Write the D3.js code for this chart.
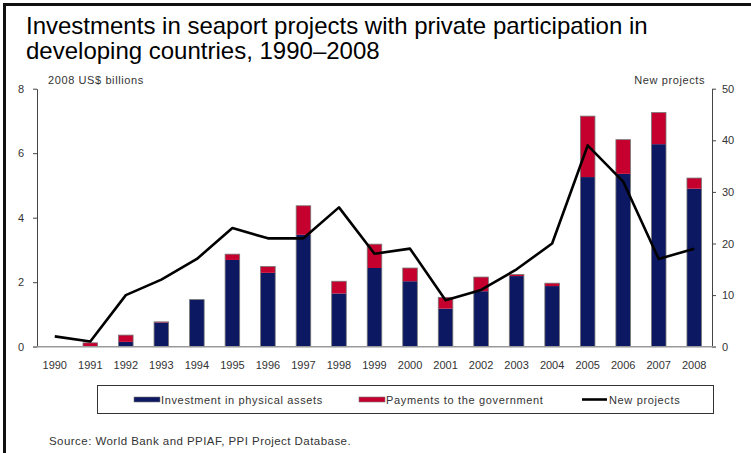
<!DOCTYPE html>
<html>
<head>
<meta charset="utf-8">
<script src="https://cdn.jsdelivr.net/npm/d3@7/dist/d3.min.js"></script>
<style>
  html, body { margin: 0; padding: 0; background: #fff; }
  svg { display: block; font-family: "Liberation Sans", Arial, sans-serif; }
</style>
</head>
<body>
<svg id="chart" width="751" height="453"></svg>
<script>
// Seaport investments with private participation, 1990–2008
const years = ["1990","1991","1992","1993","1994","1995","1996","1997","1998","1999",
               "2000","2001","2002","2003","2004","2005","2006","2007","2008"];
// 2008 US$ billions
const physicalAssets = [0, 0.02, 0.15, 0.75, 1.46, 2.69, 2.29, 3.47, 1.65, 2.44,
                        2.03, 1.18, 1.72, 2.19, 1.88, 5.26, 5.36, 6.28, 4.90];
const govPayments    = [0, 0.10, 0.21, 0.02, 0, 0.18, 0.20, 0.90, 0.38, 0.74,
                        0.41, 0.35, 0.44, 0.05, 0.09, 1.89, 1.06, 0.98, 0.33];
// count of new projects (right axis)
const newProjects    = [2, 1, 10, 13, 17, 23, 21, 21, 27, 18,
                        19, 9, 11, 15, 20, 39, 32, 17, 19];
const leftTicks  = [0, 2, 4, 6, 8];
const rightTicks = [0, 10, 20, 30, 40, 50];

const navy = "#0c1862", red = "#c5002e";
const svg = d3.select("#chart");

// outer frame (top and left rules)
svg.append("line").attr("x1", 4).attr("x2", 751).attr("y1", 4.5).attr("y2", 4.5)
  .attr("stroke", "#111").attr("stroke-width", 3);
svg.append("line").attr("x1", 4.5).attr("x2", 4.5).attr("y1", 3).attr("y2", 453)
  .attr("stroke", "#111").attr("stroke-width", 3);

// title
const title = svg.append("text").attr("x", 26).attr("y", 34)
  .attr("font-size", 24).attr("fill", "#000");
title.append("tspan").attr("x", 26).text("Investments in seaport projects with private participation in");
title.append("tspan").attr("x", 26).attr("dy", 25).text("developing countries, 1990–2008");

const plot = { left: 37, right: 712, top: 88.7, bottom: 346.7 };

const x = d3.scaleBand().domain(years).range([plot.left, plot.right]).paddingInner(0.59).paddingOuter(0.295);
const yL = d3.scaleLinear().domain([0, 8]).range([plot.bottom, plot.top]);
const yR = d3.scaleLinear().domain([0, 50]).range([plot.bottom, plot.top]);

// axis unit captions
svg.append("text").attr("x", 48).attr("y", 84).attr("font-size", 11).attr("fill", "#333")
  .attr("letter-spacing", 0.6).text("2008 US$ billions");
svg.append("text").attr("x", 705).attr("y", 84).attr("font-size", 11).attr("fill", "#333")
  .attr("letter-spacing", 0.6).attr("text-anchor", "end").text("New projects");

// left axis
const axL = svg.append("g").attr("transform", `translate(${plot.left},0)`)
  .call(d3.axisLeft(yL).tickValues(leftTicks).tickSize(4).tickSizeOuter(0).tickPadding(9));
// right axis
const axR = svg.append("g").attr("transform", `translate(${plot.right},0)`)
  .call(d3.axisRight(yR).tickValues(rightTicks).tickSize(4).tickSizeOuter(0).tickPadding(6));
[axL, axR].forEach(g => {
  g.select(".domain").attr("stroke", "#444");
  g.selectAll(".tick line").attr("stroke", "#444");
  g.selectAll(".tick text").attr("font-size", 11).attr("fill", "#333")
    .attr("font-family", "'Liberation Sans', Arial, sans-serif");
});

// stacked bars
const stackData = years.map((yr, i) => ({ year: yr, a: physicalAssets[i], b: govPayments[i] }));
const bars = svg.append("g");
bars.selectAll("rect.asset").data(stackData).join("rect")
  .attr("x", d => x(d.year)).attr("width", x.bandwidth())
  .attr("y", d => yL(d.a)).attr("height", d => yL(0) - yL(d.a))
  .attr("fill", navy);
bars.selectAll("rect.pay").data(stackData).join("rect")
  .attr("x", d => x(d.year)).attr("width", x.bandwidth())
  .attr("y", d => yL(d.a + d.b)).attr("height", d => yL(d.a) - yL(d.a + d.b))
  .attr("fill", red);
bars.selectAll("rect.outline").data(stackData.filter(d => d.a + d.b > 0)).join("rect")
  .attr("x", d => x(d.year)).attr("width", x.bandwidth())
  .attr("y", d => yL(d.a + d.b)).attr("height", d => yL(0) - yL(d.a + d.b))
  .attr("fill", "none").attr("stroke", "#777").attr("stroke-width", 0.8);

// baseline
svg.append("line").attr("x1", plot.left - 4).attr("x2", plot.right + 4)
  .attr("y1", plot.bottom).attr("y2", plot.bottom)
  .attr("stroke", "#999").attr("stroke-width", 1.5);

// year labels
svg.append("g").selectAll("text").data(years).join("text")
  .attr("x", d => x(d) + x.bandwidth() / 2).attr("y", 369)
  .attr("text-anchor", "middle").attr("font-size", 11).attr("fill", "#333")
  .text(d => d);

// new projects line
const line = d3.line()
  .x((d, i) => x(years[i]) + x.bandwidth() / 2)
  .y(d => yR(d));
svg.append("path").datum(newProjects).attr("d", line)
  .attr("fill", "none").attr("stroke", "#000").attr("stroke-width", 2.6)
  .attr("stroke-linejoin", "round");

// legend
const lg = svg.append("g");
lg.append("rect").attr("x", 97.5).attr("y", 385.5).attr("width", 616).attr("height", 28)
  .attr("fill", "#fff").attr("stroke", "#333").attr("stroke-width", 1);
const legendItems = [
  { label: "Investment in physical assets", type: "bar", color: navy, x: 134 },
  { label: "Payments to the government", type: "bar", color: red, x: 359 },
  { label: "New projects", type: "line", color: "#000", x: 582 }
];
legendItems.forEach(it => {
  if (it.type === "bar") {
    lg.append("rect").attr("x", it.x).attr("y", 397).attr("width", 26).attr("height", 5)
      .attr("fill", it.color).attr("stroke", "#777").attr("stroke-width", 0.6);
  } else {
    lg.append("line").attr("x1", it.x).attr("x2", it.x + 25).attr("y1", 399.5).attr("y2", 399.5)
      .attr("stroke", it.color).attr("stroke-width", 2.6);
  }
  lg.append("text").attr("x", it.x + 27).attr("y", 403.5).attr("font-size", 11)
    .attr("fill", "#333").attr("letter-spacing", 0.65).text(it.label);
});

// source note
svg.append("text").attr("x", 49).attr("y", 445).attr("font-size", 11.5).attr("fill", "#333")
  .attr("letter-spacing", 0.45).text("Source: World Bank and PPIAF, PPI Project Database.");
</script>
</body>
</html>
